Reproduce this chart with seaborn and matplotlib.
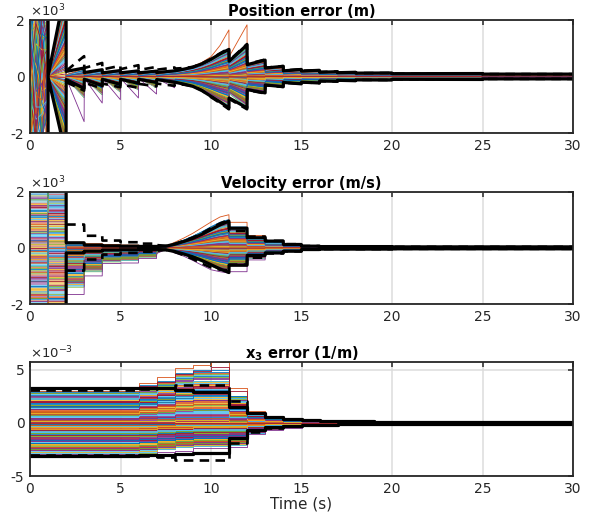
import numpy as np
import pandas as pd
import matplotlib
matplotlib.use("Agg")
import matplotlib.pyplot as plt
import seaborn as sns

# ---------------- data ----------------
TIME_TICKS = [0, 5, 10, 15, 20, 25, 30]

# relative spread of the Monte-Carlo runs inside each envelope (two batches of runs)
F = [0.12, -0.45, 0.78, -0.05, 0.33, -0.91, 0.56, -0.22, 0.95, -0.67,
     0.08, -0.38, 0.64, -0.14, 0.27, -0.82, 0.49, -0.58, 0.86, -0.29,
     0.03, -0.73, 0.41, -0.10, 0.70, -1.00, 0.19, -0.49, 0.89, -0.33,
     0.58, -0.18, 0.36, -0.62, 0.15, -0.86, 0.74, -0.41, 0.24, -0.07,
     0.52, -0.77, 0.99, -0.26, 0.45, -0.53, 0.06, -0.95, 0.67, -0.36,
     0.30, -0.69, 0.82, -0.12, 0.21, -0.56, 0.60, -0.02, 0.38, -0.80]
G = [-0.31, 0.47, -0.84, 0.10, -0.16, 0.72, -0.60, 0.25, -0.97, 0.54,
     -0.04, 0.35, -0.71, 0.17, -0.43, 0.91, -0.24, 0.62, -0.88, 0.01,
     -0.51, 0.80, -0.09, 0.43, -0.65, 0.28, -0.93, 0.13, -0.34, 0.76,
     -0.20, 0.50, -0.79, 0.05, -0.47, 0.93, -0.27, 0.66, -0.55, 0.39,
     -0.13, 0.84, -0.75, 0.22, -0.40, 0.97, -0.06, 0.32, -0.89, 0.57,
     -0.30, 0.69, -0.64, 0.10, -0.19, 0.44, -0.84, 0.79, -0.01, 0.53]

# ---- Position error (m) ----
POS_ZIG_T = [0.0, 0.33, 0.66, 0.99]
POS_ZIG_AMP = 2700
POS_T = [1.0, 1.99, 2.0, 2.99, 3.0, 3.99, 4.0, 4.99, 5.0, 5.99, 6.0, 6.99, 7.0, 7.99,
         8.0, 8.5, 9.0, 9.5, 10.0, 10.5, 10.99, 11.0, 11.99, 12.0, 12.99, 13.0, 13.99,
         14.0, 14.99, 15.0, 15.99, 16.0, 16.99, 17.0, 17.99, 18.0, 19.99, 20.0, 24.99,
         25.0, 30.0]
POS_UP = [20, 3000, 60, 220, 60, 200, 60, 180, 60, 170, 60, 170, 70, 180,
          170, 240, 320, 440, 600, 800, 980, 520, 1100, 400, 560, 280, 350,
          190, 240, 170, 190, 140, 150, 110, 120, 95, 95, 65, 65, 45, 45]
POS_LO = [20, 2800, 60, 750, 60, 650, 60, 550, 60, 480, 60, 400, 70, 300,
          200, 270, 360, 500, 680, 880, 1050, 600, 1100, 450, 580, 280, 350,
          200, 250, 180, 200, 150, 150, 115, 120, 95, 95, 65, 65, 45, 45]
POS_OUT_HI = [20, 2500, 60, 280, 60, 240, 60, 200, 60, 190, 60, 190, 70, 200,
              180, 260, 360, 500, 700, 1100, 1650, 700, 1830, 380, 520, 250, 300,
              170, 200, 150, 160, 120, 130, 90, 100, 80, 80, 55, 55, 40, 40]
POS_OUT_LO = [-20, -2600, -60, -1600, -60, -940, -60, -820, -60, -760, -60, -620, -70, -400,
              -200, -250, -330, -450, -620, -800, -950, -550, -1000, -420, -520, -260, -320,
              -190, -230, -170, -180, -140, -140, -110, -110, -90, -90, -60, -60, -40, -40]
POS_BOUND_T = [0.0, 0.999] + POS_T
POS_SU = [6000, 6000, 20, 3200, 180, 300, 140, 240, 130, 210, 130, 200, 130, 190, 140, 200,
          200, 260, 330, 450, 610, 800, 960, 540, 1120, 420, 580, 300, 360,
          200, 250, 190, 220, 150, 170, 135, 150, 120, 125, 100, 105, 85, 85]
POS_SL = [-6000, -6000, -20, -2800, -110, -420, -100, -320, -100, -280, -100, -240, -100, -210, -110, -200,
          -200, -270, -350, -500, -700, -900, -1110, -760, -1110, -465, -580, -300, -360,
          -210, -260, -200, -230, -160, -170, -135, -150, -120, -125, -100, -105, -85, -85]
POS_DASH_T = POS_T[2:]
POS_DU = [200, 720, 300, 480, 250, 380, 260, 400, 230, 340, 240, 320,
          280, 300, 340, 460, 620, 820, 1000, 560, 1150, 440, 600, 310, 370,
          210, 260, 200, 230, 160, 175, 135, 150, 120, 125, 100, 105, 85, 85]
POS_DL = [-200, -500, -220, -420, -250, -380, -280, -400, -260, -350, -250, -330,
          -260, -290, -340, -490, -730, -940, -1160, -790, -1160, -480, -600, -310, -370,
          -215, -265, -205, -235, -165, -175, -135, -150, -120, -125, -100, -105, -85, -85]

# ---- Velocity error (m/s) ----
VEL_STRIPE_T = [0.0, 0.99, 1.0, 1.99]
VEL_STRIPE_AMP = 2150
VEL_T = [2.0, 2.99, 3.0, 3.99, 4.0, 4.99, 5.0, 5.99, 6.0, 6.99,
         7.0, 7.5, 8.0, 8.5, 9.0, 9.5, 10.0, 10.5, 10.99,
         11.0, 11.99, 12.0, 12.99, 13.0, 13.99, 14.0, 14.99, 15.0, 15.99,
         16.0, 19.99, 20.0, 30.0]
VEL_UP = [150, 150, 120, 120, 100, 100, 80, 80, 70, 70,
          60, 50, 160, 280, 420, 580, 760, 920, 1020,
          750, 750, 380, 380, 200, 200, 110, 110, 60, 60, 35, 35, 20, 20]
VEL_LO = [1400, 1400, 850, 850, 500, 500, 450, 450, 330, 330,
          180, 50, 150, 250, 370, 500, 650, 780, 870,
          620, 620, 380, 380, 190, 190, 110, 110, 60, 60, 35, 35, 20, 20]
VEL_OUT_HI = [200, 200, 150, 150, 120, 120, 100, 100, 80, 80,
              70, 60, 200, 350, 520, 720, 920, 1100, 1180,
              910, 910, 440, 440, 230, 230, 130, 130, 70, 70, 40, 40, 25, 25]
VEL_OUT_LO = [-1660, -1660, -1000, -1000, -560, -560, -540, -540, -380, -380,
              -200, -60, -180, -300, -450, -620, -780, -850, -900,
              -850, -850, -430, -430, -210, -210, -120, -120, -70, -70, -40, -40, -20, -20]
VEL_BOUND_T = [0.0, 1.99] + VEL_T
VEL_SU = [6000, 6000, 180, 180, 100, 100, 70, 70, 60, 60, 50, 50,
          50, 60, 130, 230, 340, 480, 650, 820, 950,
          700, 700, 360, 360, 240, 240, 120, 120, 60, 60, 45, 45, 35, 35]
VEL_SL = [-6000, -6000, -180, -180, -120, -120, -80, -80, -70, -70, -60, -60,
          -60, -70, -130, -220, -320, -450, -600, -750, -880,
          -620, -620, -270, -270, -180, -180, -120, -120, -60, -60, -45, -45, -35, -35]
VEL_DU = [830, 830, 430, 430, 260, 260, 200, 200, 150, 150,
          100, 70, 140, 250, 370, 520, 700, 870, 1000,
          600, 600, 400, 400, 250, 250, 130, 130, 65, 65, 45, 45, 35, 35]
VEL_DL = [-810, -810, -415, -415, -240, -240, -180, -180, -140, -140,
          -100, -70, -150, -260, -400, -560, -700, -780, -800,
          -600, -600, -350, -350, -200, -200, -125, -125, -65, -65, -45, -45, -35, -35]

# ---- x3 error (1/m), values in units of 1e-3, one value per second 0..29 ----
X3_T = list(range(31))
X3_UP = [3.0, 3.0, 3.0, 3.0, 3.0, 3.0, 3.6, 4.0, 4.8, 5.0, 5.0, 2.6, 1.0, 0.62, 0.40,
         0.30, 0.25, 0.20, 0.18, 0.15, 0.12, 0.12, 0.11, 0.10, 0.10, 0.08, 0.08, 0.07, 0.07, 0.06]
X3_LO = [2.9, 2.9, 2.9, 2.9, 2.9, 2.9, 2.8, 2.5, 2.3, 2.2, 2.2, 2.1, 0.95, 0.60, 0.40,
         0.30, 0.25, 0.20, 0.18, 0.15, 0.12, 0.12, 0.11, 0.10, 0.10, 0.08, 0.08, 0.07, 0.07, 0.06]
X3_OUT_HI = [3.0, 3.0, 3.0, 3.0, 3.0, 3.0, 3.8, 4.3, 5.2, 5.5, 5.75, 3.3, 1.1, 0.70, 0.45,
             0.32, 0.27, 0.22, 0.19, 0.16, 0.13, 0.13, 0.12, 0.11, 0.11, 0.09, 0.09, 0.08, 0.08, 0.07]
X3_OUT_RED = [3.4, 3.4, 3.4, 3.4, 3.4, 3.4, 3.5, 3.9, 4.6, 4.9, 5.3, 3.0, 0.9, 0.55, 0.38,
              0.28, 0.23, 0.19, 0.17, 0.14, 0.12, 0.12, 0.11, 0.10, 0.10, 0.08, 0.08, 0.07, 0.07, 0.06]
X3_OUT_LO = [-2.95, -2.95, -2.95, -2.95, -2.95, -2.95, -3.0, -2.7, -2.6, -2.4, -2.4, -2.25, -1.05, -0.65, -0.43,
             -0.32, -0.26, -0.21, -0.19, -0.16, -0.13, -0.13, -0.12, -0.11, -0.11, -0.09, -0.09, -0.08, -0.08, -0.07]
X3_SU = [3.3, 3.3, 3.3, 3.3, 3.3, 3.3, 3.3, 3.3, 3.15, 2.9, 2.9, 1.48, 0.95, 0.56, 0.37,
         0.26, 0.21, 0.17, 0.15, 0.13, 0.11, 0.11, 0.10, 0.10, 0.09, 0.08, 0.08, 0.07, 0.07, 0.06]
X3_SL = [-3.15, -3.15, -3.15, -3.15, -3.15, -3.1, -3.05, -3.0, -2.9, -2.85, -2.8, -1.45, -0.65, -0.40, -0.27,
         -0.20, -0.17, -0.14, -0.12, -0.11, -0.10, -0.10, -0.09, -0.09, -0.08, -0.07, -0.07, -0.06, -0.06, -0.05]
X3_DU = [3.1, 3.1, 3.1, 3.1, 3.1, 3.15, 3.2, 3.3, 3.6, 3.6, 3.6, 2.07, 0.96, 0.55, 0.36,
         0.26, 0.20, 0.17, 0.15, 0.13, 0.11, 0.11, 0.10, 0.10, 0.09, 0.08, 0.08, 0.07, 0.07, 0.06]
X3_DL = [-3.0, -3.0, -3.0, -3.0, -3.0, -3.05, -3.1, -3.2, -3.5, -3.5, -3.5, -1.9, -0.87, -0.45, -0.30,
         -0.21, -0.17, -0.14, -0.12, -0.11, -0.10, -0.10, -0.09, -0.09, -0.08, -0.07, -0.07, -0.06, -0.06, -0.05]
X3_SCALE = 1e-3

TITLES = ["Position error (m)", "Velocity error (m/s)", r"$\mathbf{x_3}$ error (1/m)"]
YTICKS = [[-2000, 0, 2000], [-2000, 0, 2000], [-5e-3, 0, 5e-3]]
YTICK_LABELS = [["-2", "0", "2"], ["-2", "0", "2"], ["-5", "0", "5"]]
YLIMS = [(-2000, 2000), (-2000, 2000), (-5e-3, 5.75e-3)]
EXPONENTS = [r"$\times10^{3}$", r"$\times10^{3}$", r"$\times10^{-3}$"]
XLABEL = "Time (s)"

for a, b in [(POS_T, POS_UP), (POS_T, POS_LO), (POS_T, POS_OUT_HI), (POS_T, POS_OUT_LO),
             (POS_BOUND_T, POS_SU), (POS_BOUND_T, POS_SL), (POS_DASH_T, POS_DU), (POS_DASH_T, POS_DL),
             (VEL_T, VEL_UP), (VEL_T, VEL_LO), (VEL_T, VEL_OUT_HI), (VEL_T, VEL_OUT_LO),
             (VEL_BOUND_T, VEL_SU), (VEL_BOUND_T, VEL_SL), (VEL_T, VEL_DU), (VEL_T, VEL_DL)]:
    assert len(a) == len(b), (len(a), len(b))
for arr in [X3_UP, X3_LO, X3_OUT_HI, X3_OUT_RED, X3_OUT_LO, X3_SU, X3_SL, X3_DU, X3_DL]:
    assert len(arr) == 30

# ---------------- style ----------------
sns.set_theme(style="white")
plt.rcParams["font.family"] = ["DejaVu Sans"]
plt.rcParams["axes.unicode_minus"] = False
MATLAB = ["#0072BD", "#D95319", "#EDB120", "#7E2F8E", "#77AC30", "#4DBEEE", "#A2142F"]
DARK = "#262626"

FR = F + G
N = len(FR)
P1, P2, P3 = 7, 11, 13


def env(f, up, lo):
    return [f * u for u in up] if f >= 0 else [f * l for l in lo]


def draw_runs(ax, runs, colors, steps=False):
    frames = []
    pal = {}
    for k, (t, y) in enumerate(runs):
        name = f"r{k:03d}"
        frames.append(pd.DataFrame({"t": t, "y": y, "run": name}))
        pal[name] = colors[k]
    df = pd.concat(frames, ignore_index=True)
    kw = {"drawstyle": "steps-post"} if steps else {}
    sns.lineplot(data=df, x="t", y="y", hue="run", units="run", estimator=None,
                 sort=False, palette=pal, legend=False, lw=0.6, ax=ax, zorder=2, **kw)


def draw_bound(ax, t, y, dashed=False, steps=False):
    kw = {"drawstyle": "steps-post"} if steps else {}
    if dashed:
        kw["linestyle"] = (0, (3.6, 2.4))
        lw = 1.9
    else:
        lw = 2.3
    sns.lineplot(x=t, y=y, color="black", lw=lw, estimator=None, sort=False,
                 ax=ax, zorder=4, **kw)


W, H = 598, 517
fig = plt.figure(figsize=(W / 100, H / 100), dpi=100)
ax1 = fig.add_axes([30 / W, 1 - 133 / H, 543 / W, 113 / H])
ax2 = fig.add_axes([30 / W, 1 - 304 / H, 543 / W, 112.3 / H])
ax3 = fig.add_axes([30 / W, 1 - 476 / H, 543 / W, 114 / H])
axes = [ax1, ax2, ax3]

# ---- panel 1: position ----
runs, cols = [], []
for i, f in enumerate(FR):
    zig = [FR[i] * POS_ZIG_AMP, FR[(P1 * i + 5) % N] * POS_ZIG_AMP,
           FR[(P2 * i + 17) % N] * POS_ZIG_AMP, FR[(P3 * i + 29) % N] * POS_ZIG_AMP]
    runs.append((POS_ZIG_T + POS_T, zig + env(f, POS_UP, POS_LO)))
    cols.append(MATLAB[i % 7])
runs.append((POS_T, POS_OUT_LO)); cols.append(MATLAB[3])
runs.append((POS_T, POS_OUT_HI)); cols.append(MATLAB[1])
draw_runs(ax1, runs, cols)
draw_bound(ax1, POS_BOUND_T, POS_SU)
draw_bound(ax1, POS_BOUND_T, POS_SL)
draw_bound(ax1, POS_DASH_T, POS_DU, dashed=True)
draw_bound(ax1, POS_DASH_T, POS_DL, dashed=True)

# ---- panel 2: velocity ----
runs, cols = [], []
for i, f in enumerate(FR):
    f2 = FR[(P1 * i + 3) % N]
    stripes = [f * VEL_STRIPE_AMP, f * VEL_STRIPE_AMP, f2 * VEL_STRIPE_AMP, f2 * VEL_STRIPE_AMP]
    runs.append((VEL_STRIPE_T + VEL_T, stripes + env(f, VEL_UP, VEL_LO)))
    cols.append(MATLAB[i % 7])
runs.append((VEL_T, VEL_OUT_LO)); cols.append(MATLAB[3])
runs.append((VEL_T, VEL_OUT_HI)); cols.append(MATLAB[1])
draw_runs(ax2, runs, cols)
draw_bound(ax2, VEL_BOUND_T, VEL_SU)
draw_bound(ax2, VEL_BOUND_T, VEL_SL)
draw_bound(ax2, VEL_T, VEL_DU, dashed=True)
draw_bound(ax2, VEL_T, VEL_DL, dashed=True)

# ---- panel 3: x3 ----
def x3(vals):
    v = [x * X3_SCALE for x in vals]
    return v + [v[-1]]

runs, cols = [], []
for i, f in enumerate(FR):
    runs.append((X3_T, x3(env(f, X3_UP, X3_LO))))
    cols.append(MATLAB[i % 7])
runs.append((X3_T, x3(X3_OUT_LO))); cols.append(MATLAB[3])
runs.append((X3_T, x3(X3_OUT_HI))); cols.append(MATLAB[1])
runs.append((X3_T, x3(X3_OUT_RED))); cols.append(MATLAB[6])
draw_runs(ax3, runs, cols, steps=True)
draw_bound(ax3, X3_T, x3(X3_SU), steps=True)
draw_bound(ax3, X3_T, x3(X3_SL), steps=True)
draw_bound(ax3, X3_T, x3(X3_DU), dashed=True, steps=True)
draw_bound(ax3, X3_T, x3(X3_DL), dashed=True, steps=True)

for k, ax in enumerate(axes):
    ax.set_xlim(0, 30)
    ax.set_ylim(*YLIMS[k])
    ax.set_xticks(TIME_TICKS)
    ax.set_xticklabels([str(t) for t in TIME_TICKS])
    ax.set_yticks(YTICKS[k])
    ax.set_yticklabels(YTICK_LABELS[k])
    ax.set_xlabel("")
    ax.set_ylabel("")
    ax.grid(True, color="#dcdcdc", lw=1.1)
    ax.set_axisbelow(True)
    for s in ax.spines.values():
        s.set_color(DARK)
        s.set_linewidth(1.3)
        s.set_zorder(6)
    ax.tick_params(direction="in", length=3.8, width=1.1, color=DARK, top=True, right=True,
                   labelsize=10, labelcolor=DARK, pad=4)
    ax.set_title(TITLES[k], fontsize=10.5, fontweight="bold", color="black", pad=3)
    ax.text(0.0, 1.005, EXPONENTS[k], transform=ax.transAxes, ha="left", va="bottom",
            fontsize=9.5, color=DARK)

ax3.set_xlabel(XLABEL, fontsize=11, color=DARK, labelpad=1)

fig.savefig("out.png", dpi=100)
